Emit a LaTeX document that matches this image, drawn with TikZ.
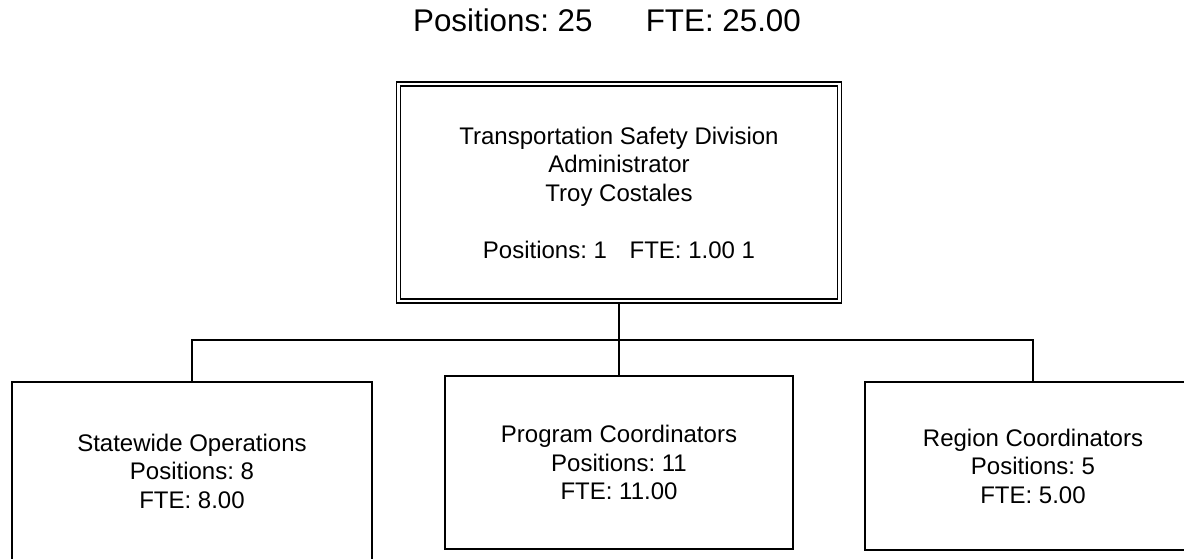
\documentclass[tikz,border=0pt]{standalone}
\usepackage{fontspec}
\setmainfont{Liberation Sans}
\frenchspacing
\begin{document}
\begin{tikzpicture}[x=0.75pt,y=-0.75pt,
  box/.style={draw=black, line width=1.2pt, rectangle, inner sep=0pt, outer sep=0pt,
    align=center, font=\fontsize{18}{21.4}\selectfont},
  dbox/.style={box, double, double distance=2pt, line width=1.1pt},
  conn/.style={draw=black, line width=1.2pt}]
\useasboundingbox (0,0) rectangle (1184,559);
\clip (0,0) rectangle (1184,559);
\node[anchor=base, font=\fontsize{23.5}{28}\selectfont] (title) at (607,32)
  {Positions: 25\hspace{40pt}FTE: 25.00};
\node[dbox, minimum width=330.75pt, minimum height=162.75pt] (top) at (619,192.5)
  {Transportation Safety Division\\Administrator\\Troy Costales\\[21.4pt]Positions: 1\hspace{17pt}FTE: 1.00 1};
\node[box, minimum width=270pt, minimum height=133.5pt] (left) at (192,471)
  {Statewide Operations\\Positions: 8\\FTE: 8.00};
\node[box, minimum width=261pt, minimum height=129.75pt] (mid) at (619,462.5)
  {Program Coordinators\\Positions: 11\\FTE: 11.00};
\node[box, minimum width=252pt, minimum height=126pt] (right) at (1033,466)
  {Region Coordinators\\Positions: 5\\FTE: 5.00};
\coordinate (bus) at (619,340);
\draw[conn] ([yshift=-2.2pt]top.south) -- (top.south |- bus);
\draw[conn] (left.north) |- (bus) -| (right.north);
\draw[conn] (mid.north) -- (mid.north |- bus);
\end{tikzpicture}
\end{document}
